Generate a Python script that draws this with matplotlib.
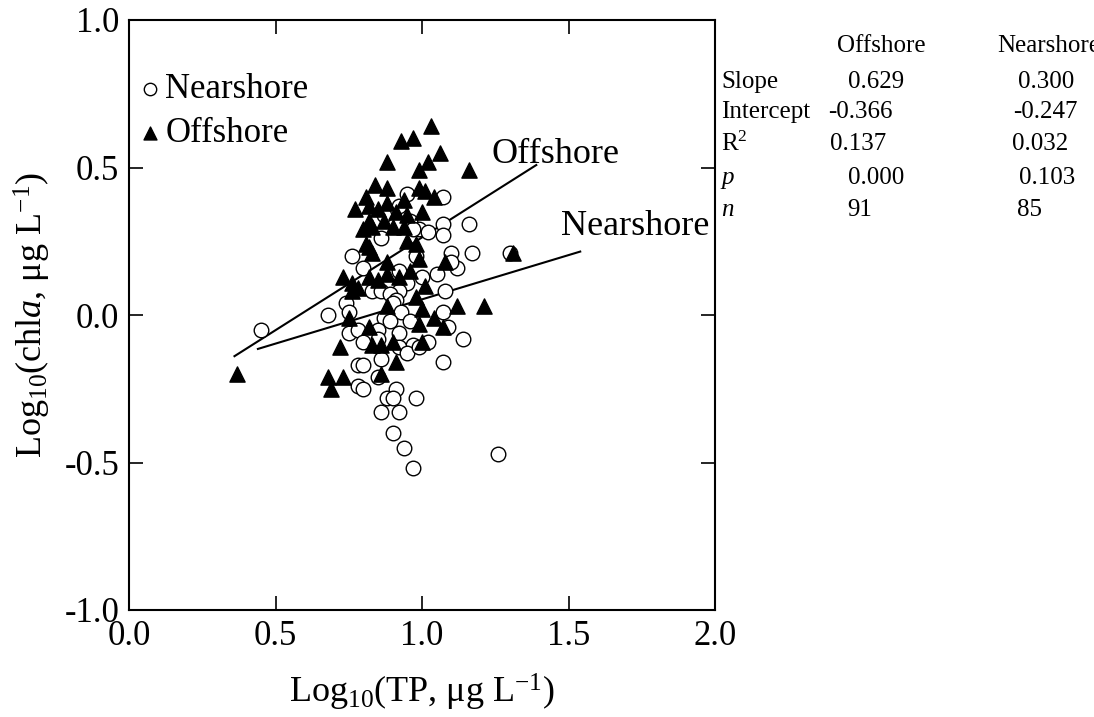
import matplotlib
matplotlib.use("Agg")
import matplotlib.pyplot as plt
import numpy as np

plt.rcParams['font.family'] = ['Liberation Serif', 'DejaVu Serif']
plt.rcParams['mathtext.fontset'] = 'custom'
plt.rcParams['mathtext.rm'] = 'Liberation Serif'
plt.rcParams['mathtext.it'] = 'Liberation Serif:italic'
plt.rcParams['axes.unicode_minus'] = False

# Offshore (triangles): log10 TP, log10 chl a
off_x = [0.37, 0.68, 0.73, 0.69, 0.72, 0.75, 0.82, 0.83, 0.86, 0.90, 0.91, 0.86,
         1.00, 0.99, 1.04, 1.07, 1.12, 1.00, 0.98, 0.88, 1.01, 0.73, 0.76, 0.76,
         0.78, 0.82, 0.85, 0.88, 0.88, 0.83, 0.96, 0.99, 1.08, 1.03, 0.93, 0.97,
         1.06, 0.88, 1.02, 0.99, 1.16, 0.84, 0.88, 0.99, 1.01, 1.04, 0.81, 0.77,
         0.82, 0.85, 0.88, 0.94, 0.91, 0.95, 1.00, 0.82, 0.80, 0.83, 0.87, 0.90,
         0.94, 0.81, 0.95, 0.98, 0.82, 1.31, 0.92, 1.21]
off_y = [-0.20, -0.21, -0.21, -0.25, -0.11, -0.01, -0.04, -0.10, -0.10, -0.09, -0.16, -0.20,
         -0.09, -0.03, -0.01, -0.04, 0.03, 0.02, 0.06, 0.03, 0.10, 0.13, 0.11, 0.08,
         0.09, 0.13, 0.12, 0.14, 0.18, 0.21, 0.15, 0.19, 0.18, 0.64, 0.59, 0.60,
         0.55, 0.52, 0.52, 0.49, 0.49, 0.44, 0.43, 0.43, 0.42, 0.40, 0.40, 0.36,
         0.37, 0.36, 0.38, 0.39, 0.35, 0.34, 0.35, 0.32, 0.29, 0.30, 0.32, 0.30,
         0.30, 0.24, 0.25, 0.24, 0.23, 0.21, 0.13, 0.03]

# Nearshore (circles)
near_x = [0.45, 0.68, 0.76, 0.80, 0.92, 1.05, 1.12, 1.10, 1.17, 0.95, 1.00, 0.92,
          0.83, 0.86, 0.89, 1.08, 0.74, 0.91, 0.90, 0.75, 0.93, 1.07, 0.87, 0.89,
          0.96, 0.75, 0.78, 0.85, 0.92, 1.09, 1.14, 0.80, 0.85, 0.97, 0.92, 0.95,
          0.99, 1.02, 0.86, 0.78, 0.80, 1.07, 0.85, 0.78, 0.80, 0.91, 0.88, 0.90,
          0.98, 0.86, 0.92, 0.90, 0.94, 0.97, 1.26, 0.95, 1.07, 0.92, 0.87, 0.96,
          1.07, 1.16, 0.86, 0.99, 1.02, 1.07, 1.10, 0.97, 0.98, 1.30]
near_y = [-0.05, 0.00, 0.20, 0.16, 0.15, 0.14, 0.16, 0.21, 0.21, 0.11, 0.13, 0.08,
          0.08, 0.08, 0.07, 0.08, 0.04, 0.05, 0.04, 0.01, 0.01, 0.01, -0.01, -0.02,
          -0.02, -0.06, -0.05, -0.05, -0.06, -0.04, -0.08, -0.09, -0.08, -0.10, -0.11, -0.13,
          -0.11, -0.09, -0.15, -0.17, -0.17, -0.16, -0.21, -0.24, -0.25, -0.25, -0.28, -0.28,
          -0.28, -0.33, -0.33, -0.40, -0.45, -0.52, -0.47, 0.41, 0.40, 0.37, 0.34, 0.32,
          0.31, 0.31, 0.26, 0.29, 0.28, 0.27, 0.18, 0.29, 0.20, 0.21]

# regression fits
off_slope, off_int = 0.629, -0.366
near_slope, near_int = 0.300, -0.247
off_range = [0.36, 1.39]
near_range = [0.44, 1.54]

stat_rows = ['Slope', 'Intercept', 'R$^2$', 'p', 'n']
off_stats = ['0.629', '-0.366', '0.137', '0.000', '91']
near_stats = ['0.300', '-0.247', '0.032', '0.103', '85']

fig = plt.figure(figsize=(10.94, 7.17), dpi=100)
ax = fig.add_axes([129/1094, 107/717, 586/1094, 590/717])

ax.scatter(near_x, near_y, s=110, facecolors='white', edgecolors='black',
           linewidths=1.0, marker='o', label='Nearshore', zorder=3)
ax.scatter(off_x, off_y, s=120, color='black', marker='^',
           label='Offshore', zorder=4)

xo = np.array(off_range)
ax.plot(xo, off_slope * xo + off_int, color='black', lw=1.5, zorder=2)
xn = np.array(near_range)
ax.plot(xn, near_slope * xn + near_int, color='black', lw=1.5, zorder=2)
ax.text(1.236, 0.515, 'Offshore', fontsize=26, ha='left', va='baseline')
ax.text(1.475, 0.27, 'Nearshore', fontsize=26, ha='left', va='baseline')

ax.set_xlim(0, 2)
ax.set_ylim(-1, 1)
ax.set_xticks([0, 0.5, 1.0, 1.5, 2.0])
ax.set_yticks([-1.0, -0.5, 0.0, 0.5, 1.0])
ax.xaxis.set_major_formatter(matplotlib.ticker.FormatStrFormatter('%.1f'))
ax.yaxis.set_major_formatter(matplotlib.ticker.FormatStrFormatter('%.1f'))
ax.tick_params(direction='in', length=10, width=1.2, labelsize=25,
               top=True, right=True, pad=7)
for sp in ax.spines.values():
    sp.set_linewidth(1.5)

ax.set_xlabel(r'Log$_{10}$(TP, μg L$^{-1}$)', fontsize=26, labelpad=14)
ax.set_ylabel(r'Log$_{10}$(chl$\it{a}$, μg L$^{-1}$)', fontsize=26, labelpad=8)

leg = ax.legend(loc='upper left', bbox_to_anchor=(0.0, 0.927), frameon=False,
                fontsize=25, handlelength=0.6, handletextpad=0.15,
                labelspacing=0.3, markerscale=0.85, borderpad=0.15,
                borderaxespad=0.15)

# stats table on the right
fs = 18
x_lab = 721
x_off_head = 837
x_near_head = 997
off_left = [848, 828, 830, 848, 847]
near_left = [1018, 1013, 1012, 1019, 1017]
head_y = 46
ys = [82, 112, 144, 178, 210]


def fx(px):
    return px / 1094


def fy(py):
    return 1 - py / 717


fig.text(fx(x_off_head), fy(head_y), 'Offshore', fontsize=fs, ha='left', va='center')
fig.text(fx(x_near_head), fy(head_y), 'Nearshore', fontsize=fs, ha='left', va='center')
for i, lab in enumerate(stat_rows):
    style = 'italic' if lab in ('p', 'n') else 'normal'
    fig.text(fx(x_lab), fy(ys[i]), lab, fontsize=fs, ha='left', va='center', style=style)
    fig.text(fx(off_left[i]), fy(ys[i]), off_stats[i], fontsize=fs, ha='left', va='center')
    fig.text(fx(near_left[i]), fy(ys[i]), near_stats[i], fontsize=fs, ha='left', va='center')

fig.savefig('out.png', dpi=100)
